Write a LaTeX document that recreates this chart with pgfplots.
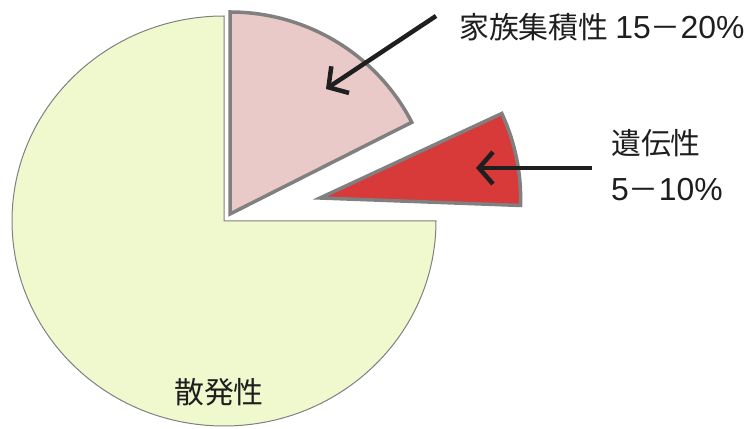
\documentclass[border=0pt]{standalone}
\usepackage{pgfplots}
\pgfplotsset{compat=1.18}
\usepackage{fontspec}
\setmainfont{Noto Sans CJK JP}
\newfontfamily\lat{Liberation Sans}
\usetikzlibrary{arrows.meta}
\definecolor{mainfill}{RGB}{240,248,206}
\definecolor{pinkfill}{RGB}{233,202,200}
\definecolor{redfill}{RGB}{216,58,58}
\definecolor{edgegray}{RGB}{128,128,128}
\definecolor{txt}{RGB}{30,30,30}
\newcommand{\num}[1]{{\lat\fontsize{32}{34}\selectfont #1}}
% shares (percent): sporadic 75, familial 17.5, hereditary 7.5
% -> angles 270, 63, 27 degrees
\begin{document}
\begin{tikzpicture}
\begin{axis}[
  width=754bp, height=429bp, scale only axis,
  xmin=0, xmax=754, ymin=0, ymax=429,
  enlargelimits=false, hide axis, clip=false]
\path (axis cs:0,0) rectangle (axis cs:754,429);
% sporadic 75% (270 deg), centre (224,208)
\filldraw[fill=mainfill, draw=edgegray, line width=1bp]
  (axis cs:224,208) -- (axis cs:436,208)
  arc[start angle=0, end angle=-270, x radius=212bp, y radius=205bp] -- cycle;
% familial 17.5% (63 deg), centre (230,215)
\filldraw[fill=pinkfill, draw=edgegray, line width=3.5bp, line join=miter]
  (axis cs:230,215) -- (axis cs:230,417)
  arc[start angle=90, end angle=27, x radius=204bp, y radius=202bp] -- cycle;
% hereditary 7.5% (27 deg), exploded, apex (320,231)
\filldraw[fill=redfill, draw=edgegray, line width=3.5bp, line join=miter]
  (axis cs:320,231) -- (axis cs:501.8,315.5)
  arc[start angle=25, end angle=-2, x radius=201bp, y radius=201bp] -- cycle;
% arrows
\draw[line width=4.5bp, color=black!88, -{Straight Barb[length=14bp,width=32bp]}]
  (axis cs:436,413) -- (axis cs:326,340);
\draw[line width=4.5bp, color=black!88, -{Straight Barb[length=14bp,width=32bp]}]
  (axis cs:592,261) -- (axis cs:476,261);
% labels
\node[anchor=west, inner sep=0pt, text=txt, font=\fontsize{30}{34}\selectfont]
  at (axis cs:459,402) {家族集積性 \num{15}－\num{20\%}};
\node[anchor=west, inner sep=0pt, text=txt, font=\fontsize{30}{34}\selectfont]
  at (axis cs:611,286) {遺伝性};
\node[anchor=west, inner sep=0pt, text=txt, font=\fontsize{30}{34}\selectfont]
  at (axis cs:611,239) {\num{5}－\num{10\%}};
\node[anchor=west, inner sep=0pt, text=txt, font=\fontsize{30}{34}\selectfont]
  at (axis cs:174,37) {散発性};
\end{axis}
\end{tikzpicture}
\end{document}
